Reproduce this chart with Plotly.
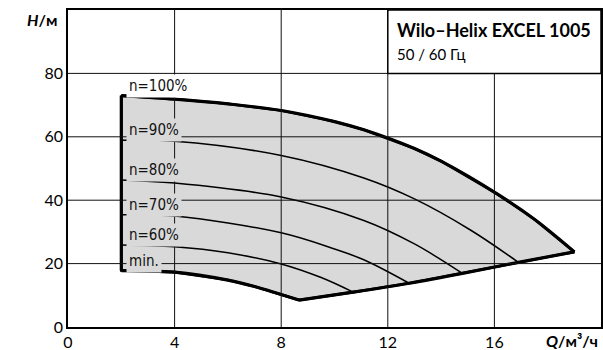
import plotly.graph_objects as go

# ---- data ----
x_ticks = [0, 4, 8, 12, 16]
y_ticks = [0, 20, 40, 60, 80]

top_q = [2, 4, 6, 8, 10, 11.1, 13, 14, 16.1, 17.5, 19]          # n=100%
top_h = [73, 71.9, 70.4, 68.3, 64.8, 62.2, 56.3, 52.3, 42.0, 34.0, 23.7]

n90_q = [2, 4, 8, 11.1, 13, 15.1, 16.9]
n90_h = [58.9, 58.6, 54.1, 47.0, 40.4, 30.6, 20.4]

n80_q = [2, 4, 8, 11.1, 13, 14.8]
n80_h = [46.4, 45.4, 41.0, 33.6, 26.2, 16.9]

n70_q = [2, 4, 8, 10, 11.1, 12.8]
n70_h = [35.4, 35.0, 29.7, 24.6, 21.2, 13.8]

n60_q = [2, 4, 6, 8, 9.5, 10.7]
n60_h = [25.9, 25.3, 23.4, 19.9, 15.6, 11.0]

min_q = [2, 4, 6, 7, 8.67]                                         # min.
min_h = [17.8, 17.3, 14.8, 12.8, 8.5]

low_q = [8.67, 10.7, 12.8, 14.8, 16.9, 19]                         # lower limit
low_h = [8.5, 11.0, 13.8, 16.9, 20.4, 23.7]

speed_labels = ["n=100%", "n=90%", "n=80%", "n=70%", "n=60%", "min."]
title_text = "Wilo–Helix EXCEL 1005"
subtitle_text = "50 / 60 Гц"

FILL = "#d9d9d9"
FONT = "Lato, 'Noto Sans', sans-serif"
LBLFONT = "'DejaVu Sans Condensed', 'DejaVu Sans', sans-serif"

fig = go.Figure()

# filled operating range (closed polygon through the boundary points)
fill_q = top_q + low_q[::-1][1:] + min_q[::-1][1:] + [top_q[0]]
fill_h = top_h + low_h[::-1][1:] + min_h[::-1][1:] + [top_h[0]]
fig.add_trace(go.Scatter(x=fill_q, y=fill_h, mode="lines", fill="toself",
                         fillcolor=FILL, line=dict(color="black", width=2.6),
                         hoverinfo="skip", showlegend=False))

# smooth thick boundaries
for qs, hs in [(top_q, top_h), (min_q, min_h), (low_q, low_h)]:
    fig.add_trace(go.Scatter(x=qs, y=hs, mode="lines",
                             line=dict(color="black", width=3.2, shape="spline", smoothing=1),
                             hoverinfo="skip", showlegend=False))
# left edge (Qmin)
fig.add_trace(go.Scatter(x=[min_q[0], top_q[0]], y=[min_h[0], top_h[0]], mode="lines",
                         line=dict(color="black", width=3.2),
                         hoverinfo="skip", showlegend=False))

# intermediate speed curves
for qs, hs in [(n90_q, n90_h), (n80_q, n80_h), (n70_q, n70_h), (n60_q, n60_h)]:
    fig.add_trace(go.Scatter(x=qs, y=hs, mode="lines",
                             line=dict(color="black", width=1.5, shape="spline", smoothing=1),
                             hoverinfo="skip", showlegend=False))

shapes = []
# gridlines above the fill
for xv in x_ticks[1:]:
    shapes.append(dict(type="line", xref="x", yref="y", x0=xv, x1=xv, y0=0, y1=100,
                       line=dict(color="#111", width=1), layer="above"))
for yv in y_ticks[1:]:
    shapes.append(dict(type="line", xref="x", yref="y", x0=0, x1=20, y0=yv, y1=yv,
                       line=dict(color="#111", width=1), layer="above"))
# title box
shapes.append(dict(type="rect", xref="x", yref="y", x0=12, x1=20, y0=80, y1=100,
                   fillcolor="white", line=dict(color="black", width=1.5), layer="above"))

annotations = []
starts = [top_h[0], n90_h[0], n80_h[0], n70_h[0], n60_h[0], min_h[0]]
for i, (lab, h0) in enumerate(zip(speed_labels, starts)):
    annotations.append(dict(x=top_q[0], y=h0, xref="x", yref="y", text=lab,
                            showarrow=False, xanchor="left", yanchor="middle",
                            xshift=5, yshift=10, borderpad=2,
                            bgcolor="white" if i == 0 else FILL,
                            font=dict(family=LBLFONT, size=15, color="#111")))

annotations.append(dict(x=12, y=100, xref="x", yref="y", text="<b>" + title_text + "</b>",
                        showarrow=False, xanchor="left", yanchor="top", xshift=7, yshift=-7,
                        font=dict(family=FONT, size=18, color="black")))
annotations.append(dict(x=12, y=100, xref="x", yref="y", text=subtitle_text,
                        showarrow=False, xanchor="left", yanchor="top", xshift=7, yshift=-33,
                        font=dict(family=FONT, size=15, color="black")))

annotations.append(dict(x=0, y=1, xref="paper", yref="paper", text="<b><i>H</i>/м</b>",
                        showarrow=False, xanchor="right", yanchor="middle", xshift=-9, yshift=-9,
                        font=dict(family=FONT, size=16, color="black")))
annotations.append(dict(x=1, y=0, xref="paper", yref="paper", text="<b><i>Q</i>/м³/ч</b>",
                        showarrow=False, xanchor="right", yanchor="middle", xshift=-1, yshift=-13,
                        font=dict(family=FONT, size=16, color="black")))

axis_common = dict(showgrid=False, zeroline=False, showline=True, mirror=True,
                   linecolor="black", linewidth=1.5, ticks="", automargin=False,
                   tickfont=dict(family=FONT, size=16, color="black"))

fig.update_layout(
    width=603, height=350,
    margin=dict(l=68, r=2, t=10, b=23),
    paper_bgcolor="white", plot_bgcolor="white",
    xaxis=dict(range=[0, 20], tickvals=x_ticks, ticktext=[str(v) for v in x_ticks], **axis_common),
    yaxis=dict(range=[0, 100], tickvals=y_ticks, ticktext=[str(v) for v in y_ticks], **axis_common),
    shapes=shapes, annotations=annotations, showlegend=False,
)

fig.write_html("out.html", config={"displayModeBar": False},
               post_script="document.body.style.margin='0';document.body.style.overflow='hidden';")
